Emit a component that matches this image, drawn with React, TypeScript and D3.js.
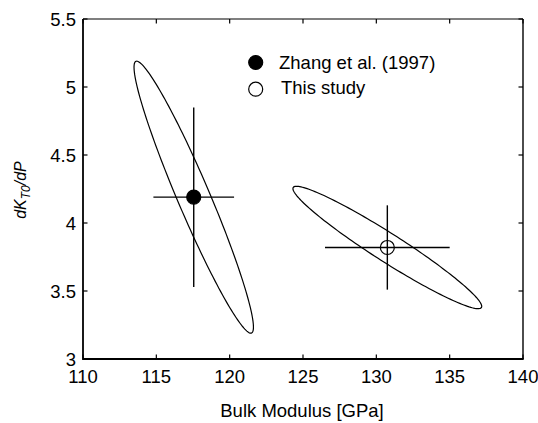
import React from "react";
import * as d3 from "d3";

// data
const seriesNames = ["Zhang et al. (1997)", "This study"];
const bulkModulus = [117.55, 130.75]; // K_T0 [GPa]
const bulkErr = [2.75, 4.25];
const kPrime = [4.19, 3.82]; // dK/dP
const kPrimeErr = [0.66, 0.31];
const filled = [true, false];

// confidence ellipses: top point offset (u) and horizontal half width (v), in data units
const ellipseU = [
   [-3.89, 1.0],
   [-6.19, 0.45],
];
const ellipseV = [1.2, 1.76];

const xTicks = [110, 115, 120, 125, 130, 135, 140];
const yTicks = [3, 3.5, 4, 4.5, 5, 5.5];

const W = 538;
const H = 423;
const margin = { top: 19, right: 15, bottom: 64, left: 83 };
const font = "'Liberation Sans', Arial, Helvetica, sans-serif";

export default function App() {
   const x = d3
      .scaleLinear()
      .domain([110, 140])
      .range([margin.left, W - margin.right]);
   const y = d3
      .scaleLinear()
      .domain([3, 5.5])
      .range([H - margin.bottom, margin.top]);

   const x0 = x.range()[0];
   const x1 = x.range()[1];
   const y0 = y.range()[0];
   const y1 = y.range()[1];
   const tick = 4.5;

   const ts = d3.range(0, 361, 2).map((d) => (d * Math.PI) / 180);
   const line = d3
      .line<[number, number]>()
      .x((d) => x(d[0]))
      .y((d) => y(d[1]));

   const ellipsePath = (i: number) =>
      line(
         ts.map((t) => [
            bulkModulus[i] + ellipseU[i][0] * Math.cos(t) + ellipseV[i] * Math.sin(t),
            kPrime[i] + ellipseU[i][1] * Math.cos(t),
         ])
      ) as string;

   const fmt = d3.format("");

   return (
      <svg
         width={W}
         height={H}
         style={{ position: "absolute", left: 0, top: 0, background: "#fff" }}
         fontFamily={font}
      >
         {/* ellipses */}
         {seriesNames.map((n, i) => (
            <path key={"e" + n} d={ellipsePath(i)} fill="none" stroke="#000" strokeWidth={1.2} />
         ))}

         {/* error bars */}
         {seriesNames.map((n, i) => (
            <g key={"b" + n} stroke="#000" strokeWidth={1.4}>
               <line
                  x1={x(bulkModulus[i] - bulkErr[i])}
                  x2={x(bulkModulus[i] + bulkErr[i])}
                  y1={y(kPrime[i])}
                  y2={y(kPrime[i])}
               />
               <line
                  x1={x(bulkModulus[i])}
                  x2={x(bulkModulus[i])}
                  y1={y(kPrime[i] - kPrimeErr[i])}
                  y2={y(kPrime[i] + kPrimeErr[i])}
               />
               <circle
                  cx={x(bulkModulus[i])}
                  cy={y(kPrime[i])}
                  r={7}
                  fill={filled[i] ? "#000" : "none"}
                  strokeWidth={1.2}
               />
            </g>
         ))}

         {/* frame */}
         <line x1={x0} x2={x1} y1={y1} y2={y1} stroke="#000" strokeWidth={1.2} />
         <line x1={x1} x2={x1} y1={y1} y2={y0} stroke="#000" strokeWidth={1.4} />
         <line x1={x0} x2={x1 + 0.7} y1={y0} y2={y0} stroke="#000" strokeWidth={2} />
         <line x1={x0} x2={x0} y1={y1} y2={y0 + 1} stroke="#000" strokeWidth={1.8} />

         {/* x ticks */}
         {xTicks.map((t) => (
            <g key={"xt" + t}>
               <line x1={x(t)} x2={x(t)} y1={y0} y2={y0 - tick} stroke="#000" strokeWidth={1.2} />
               <line x1={x(t)} x2={x(t)} y1={y1} y2={y1 + tick} stroke="#000" strokeWidth={1.2} />
               <text x={x(t)} y={y0 + 24} textAnchor="middle" fontSize={18.5}>
                  {fmt(t)}
               </text>
            </g>
         ))}

         {/* y ticks */}
         {yTicks.map((t) => (
            <g key={"yt" + t}>
               <line x1={x0} x2={x0 + tick} y1={y(t)} y2={y(t)} stroke="#000" strokeWidth={1.2} />
               <line x1={x1} x2={x1 - tick} y1={y(t)} y2={y(t)} stroke="#000" strokeWidth={1.2} />
               <text x={x0 - 7} y={y(t)} dy="0.36em" textAnchor="end" fontSize={18.5}>
                  {fmt(t)}
               </text>
            </g>
         ))}

         {/* axis labels */}
         <text x={(x0 + x1) / 2 - 1} y={417} textAnchor="middle" fontSize={18.5}>
            Bulk Modulus [GPa]
         </text>
         <text
            transform="translate(26,190) rotate(-90)"
            textAnchor="middle"
            fontSize={16}
            fontStyle="italic"
         >
            dK
            <tspan fontSize={12} dy={4}>
               T0
            </tspan>
            <tspan dy={-4}>/dP</tspan>
         </text>

         {/* legend */}
         {seriesNames.map((n, i) => (
            <g key={"l" + n}>
               <circle
                  cx={255.7}
                  cy={62.5 + i * 26.7}
                  r={7}
                  fill={filled[i] ? "#000" : "none"}
                  stroke="#000"
                  strokeWidth={1.2}
               />
               <text x={279 + i * 2} y={69 + i * 25} fontSize={18.5}>
                  {n}
               </text>
            </g>
         ))}
      </svg>
   );
}
